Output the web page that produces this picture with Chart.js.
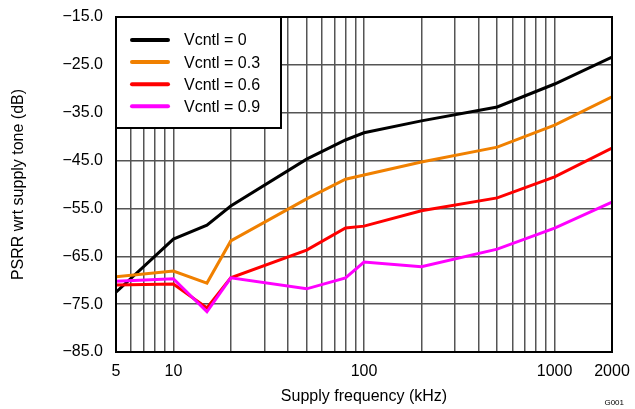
<!DOCTYPE html>
<html>
<head>
<meta charset="utf-8">
<script src="https://cdn.jsdelivr.net/npm/chart.js@4/dist/chart.umd.min.js"></script>
<style>
  html, body { margin: 0; padding: 0; background: #fff; }
  #wrap { width: 635px; height: 409px; position: relative; }
</style>
</head>
<body>
<div id="wrap"><canvas id="c" width="635" height="409"></canvas></div>
<script>
// ---- data ----
const freqs = [5, 10, 15, 20, 50, 80, 100, 200, 500, 1000, 2000];
const vcntl0  = [-72.5, -61.4, -58.5, -54.5, -44.7, -40.7, -39.2, -36.7, -33.8, -29.0, -23.4];
const vcntl03 = [-69.3, -68.1, -70.6, -61.8, -53.0, -48.9, -48.0, -45.3, -42.2, -37.6, -31.7];
const vcntl06 = [-71.0, -70.8, -75.8, -69.5, -63.7, -59.1, -58.7, -55.5, -52.8, -48.4, -42.4];
const vcntl09 = [-70.2, -69.7, -76.6, -69.5, -71.8, -69.5, -66.2, -67.2, -63.5, -59.1, -53.7];
const seriesLabels = ['Vcntl = 0', 'Vcntl = 0.3', 'Vcntl = 0.6', 'Vcntl = 0.9'];
const seriesColors = ['#000000', '#f08000', '#ff0000', '#ff00ff'];
const xGridValues = [5, 6, 7, 8, 9, 10, 20, 30, 40, 50, 60, 70, 80, 90, 100,
                     200, 300, 400, 500, 600, 700, 800, 900, 1000, 2000];
const xTickLabels = [5, 10, 100, 1000, 2000];
const yMin = -85, yMax = -15, yStep = 10;

const allSeries = [vcntl0, vcntl03, vcntl06, vcntl09];
const datasets = allSeries.map((vals, i) => ({
  label: seriesLabels[i],
  data: freqs.map((f, j) => ({ x: f, y: vals[j] })),
  borderColor: seriesColors[i],
  backgroundColor: seriesColors[i],
  borderWidth: 3,
  pointRadius: 0,
  tension: 0,
  fill: false,
  order: 3 - i
}));

const FONT = "'Liberation Sans', Arial, Helvetica, sans-serif";

function zeroPad(scale) {
  scale.paddingTop = 0; scale.paddingBottom = 0;
  scale.paddingLeft = 0; scale.paddingRight = 0;
}

const framePlugin = {
  id: 'frameAndLegend',
  afterDraw(chart) {
    const ctx = chart.ctx;
    const a = chart.chartArea;
    ctx.save();
    // frame
    ctx.strokeStyle = '#000';
    ctx.lineWidth = 2;
    ctx.strokeRect(a.left, a.top, a.right - a.left, a.bottom - a.top);
    // legend box
    const lx = a.left, ly = a.top, lw = 165, lh = 111;
    ctx.fillStyle = '#fff';
    ctx.fillRect(lx, ly, lw, lh);
    ctx.strokeRect(lx, ly, lw, lh);
    ctx.font = '16px ' + FONT;
    ctx.textBaseline = 'middle';
    ctx.textAlign = 'left';
    chart.data.datasets.forEach((ds, i) => {
      const y = ly + 23 + i * 22.1;
      ctx.strokeStyle = ds.borderColor;
      ctx.lineWidth = 4;
      ctx.lineCap = 'round';
      ctx.beginPath();
      ctx.moveTo(lx + 16, y);
      ctx.lineTo(lx + 52, y);
      ctx.stroke();
      ctx.fillStyle = '#000';
      ctx.fillText(ds.label, lx + 68, y + 1);
    });
    // figure id
    ctx.font = '8px ' + FONT;
    ctx.textAlign = 'right';
    ctx.fillStyle = '#000';
    ctx.fillText('G001', 624, 403);
    ctx.restore();
  }
};

new Chart(document.getElementById('c'), {
  type: 'line',
  data: { datasets },
  options: {
    responsive: false,
    animation: false,
    devicePixelRatio: 1,
    layout: { padding: { left: 0, right: 23, top: 17, bottom: 0 } },
    plugins: { legend: { display: false }, tooltip: { enabled: false } },
    scales: {
      x: {
        type: 'logarithmic',
        min: 5,
        max: 2000,
        afterBuildTicks(scale) {
          scale.ticks = xGridValues.map(v => ({ value: v }));
        },
        afterFit(scale) { scale.height = 57; zeroPad(scale); },
        grid: { color: '#555', lineWidth: 1.5, drawTicks: false },
        border: { display: false },
        ticks: {
          autoSkip: false,
          maxRotation: 0,
          padding: 10,
          color: '#000',
          font: { family: FONT, size: 16 },
          callback(value) {
            return xTickLabels.includes(value) ? String(value) : '';
          }
        },
        title: {
          display: true,
          text: 'Supply frequency (kHz)',
          color: '#000',
          font: { family: FONT, size: 16 },
          padding: { top: 0, bottom: 3 }
        }
      },
      y: {
        type: 'linear',
        min: yMin,
        max: yMax,
        afterFit(scale) { scale.width = 116; zeroPad(scale); },
        grid: { color: '#555', lineWidth: 1.5, drawTicks: false },
        border: { display: false },
        ticks: {
          stepSize: yStep,
          padding: 13,
          color: '#000',
          font: { family: FONT, size: 16 },
          callback(value) {
            return (value < 0 ? '\u2212' : '') + Math.abs(value).toFixed(1);
          }
        },
        title: {
          display: true,
          text: 'PSRR wrt supply tone (dB)',
          color: '#000',
          font: { family: FONT, size: 16 },
          padding: { top: 9, bottom: 0 }
        }
      }
    }
  },
  plugins: [framePlugin]
});
</script>
</body>
</html>
